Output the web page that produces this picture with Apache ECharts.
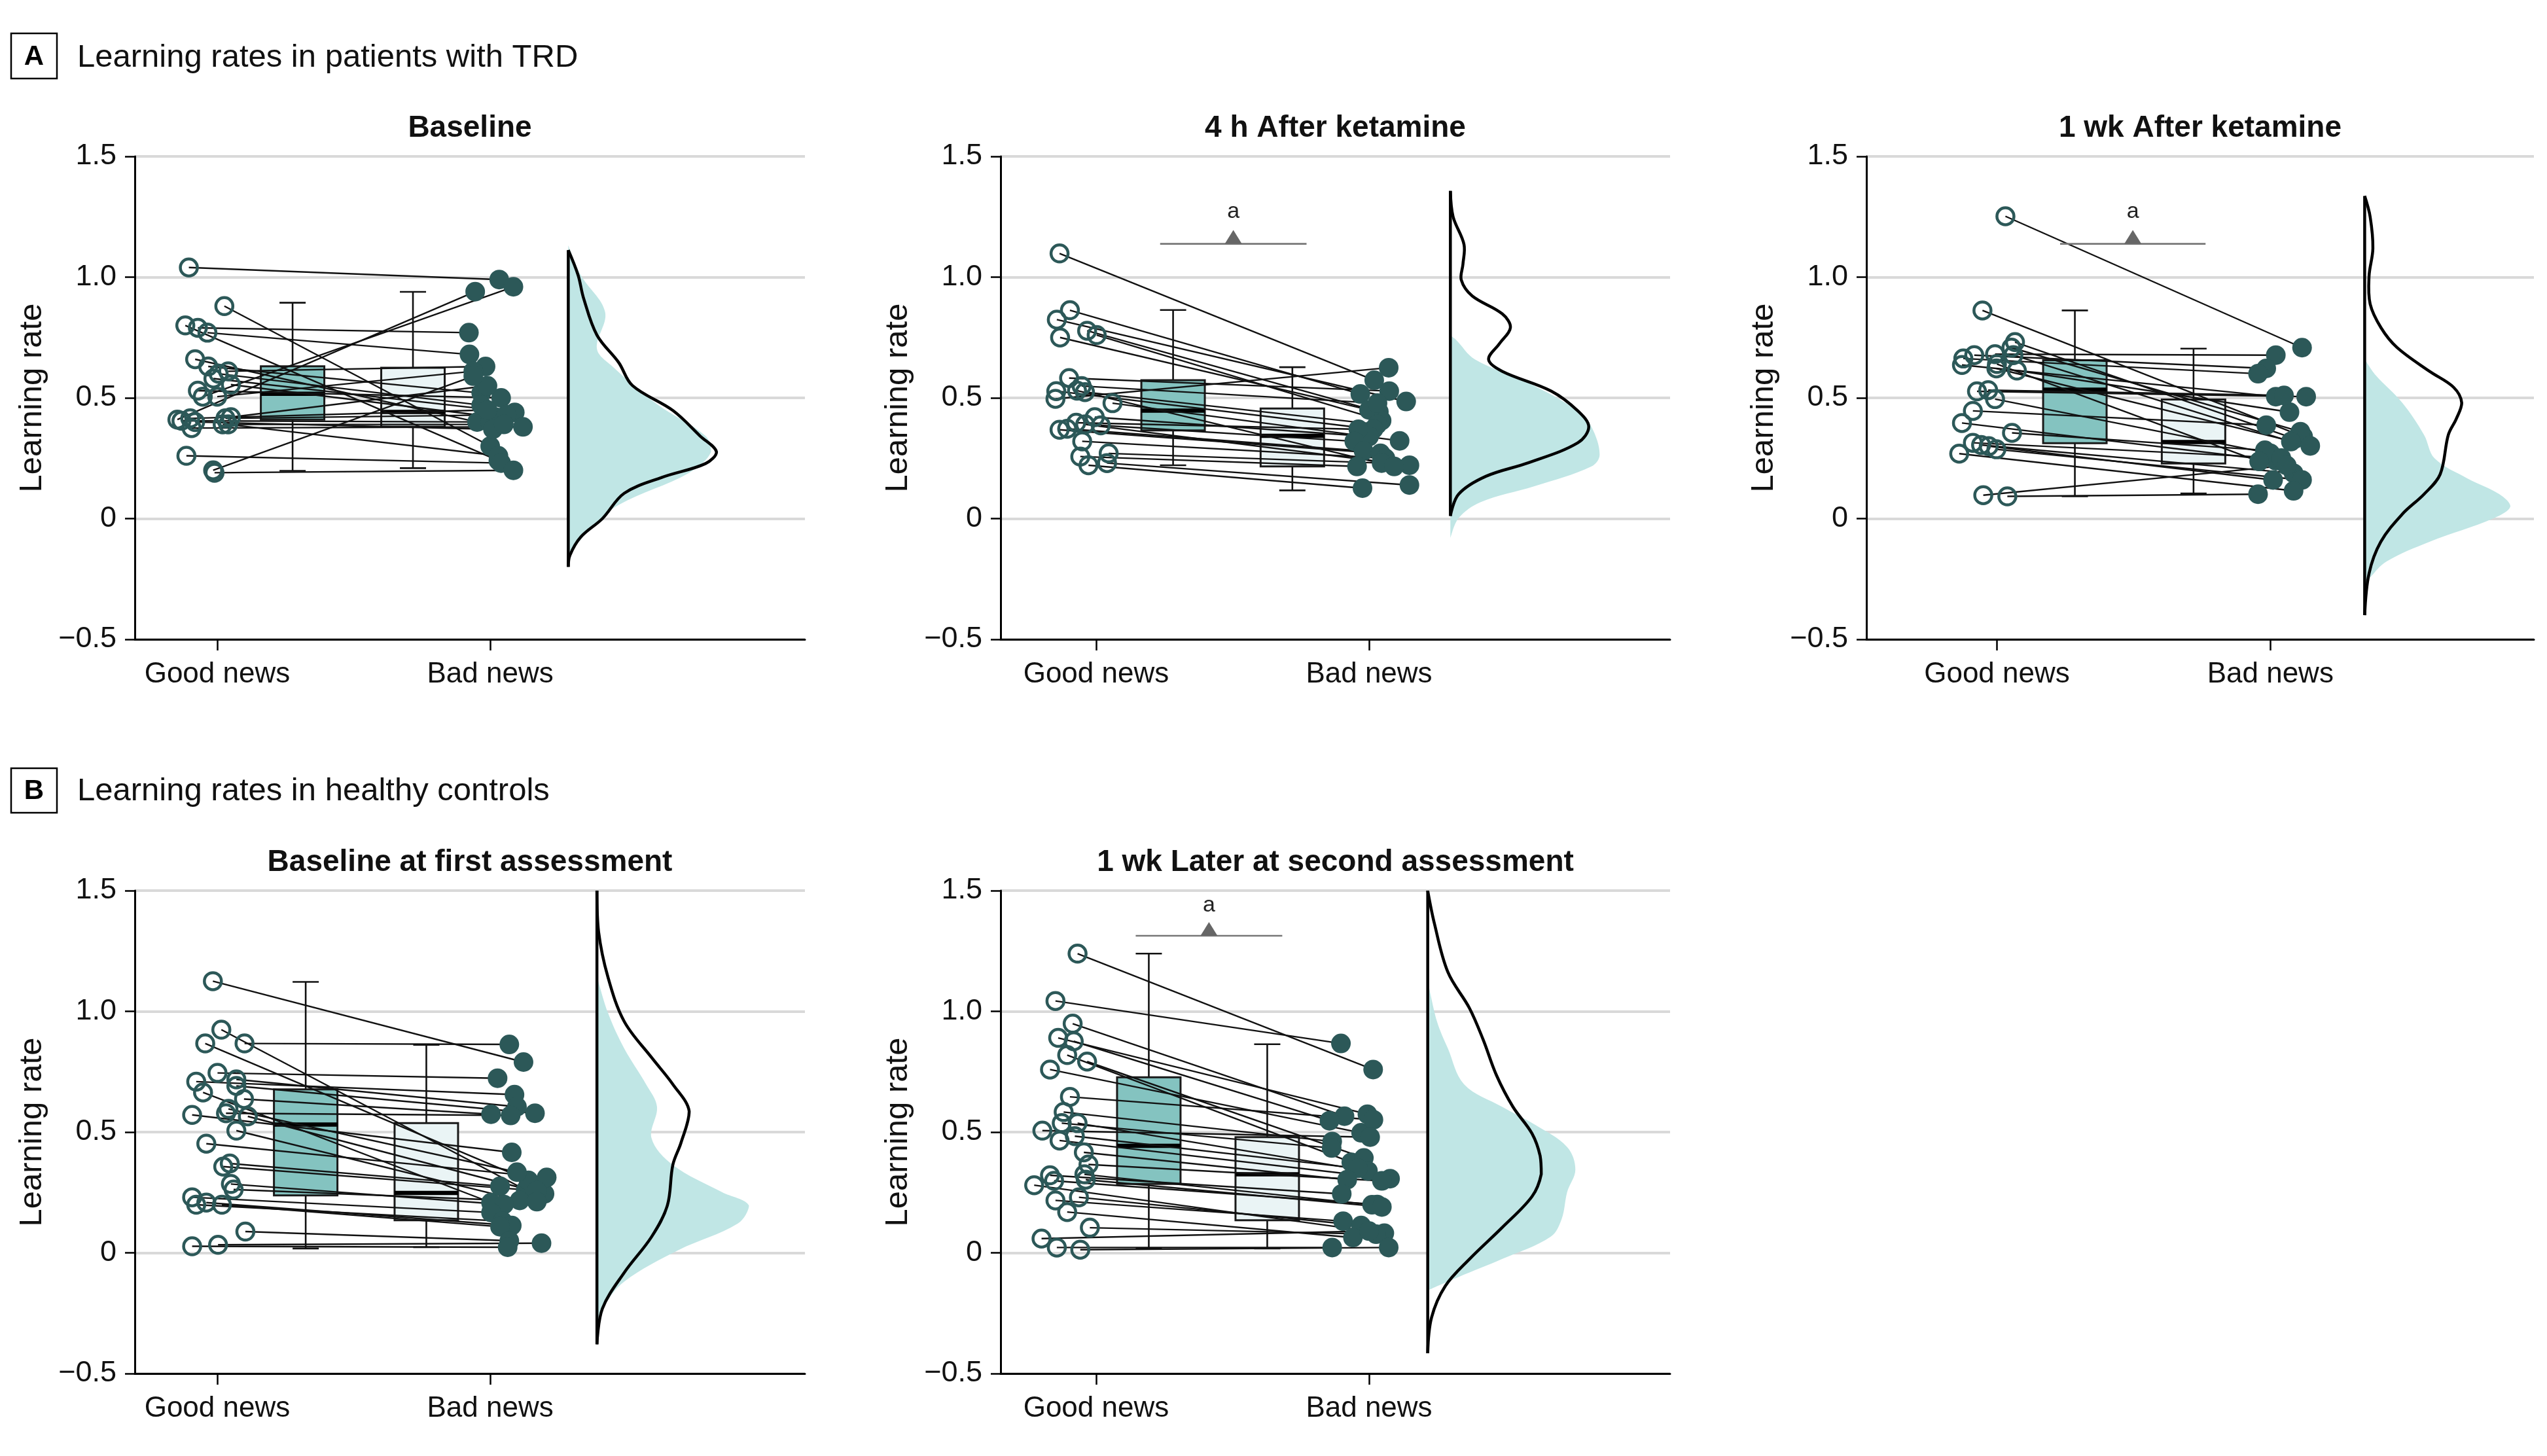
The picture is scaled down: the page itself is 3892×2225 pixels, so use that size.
<!DOCTYPE html>
<html><head><meta charset="utf-8">
<script src="https://cdn.jsdelivr.net/npm/echarts@6/dist/echarts.min.js"></script>
<style>html,body{margin:0;padding:0;background:#fff}#chart{width:3892px;height:2225px}</style>
</head><body><div id="chart"></div>
<script>
// ---------- labels ----------
const categories = ['Good news', 'Bad news'];
const yTickValues = [-0.5, 0, 0.5, 1.0, 1.5];
const yTickLabels = ['\u22120.5', '0', '0.5', '1.0', '1.5'];
const sectionA = 'Learning rates in patients with TRD';
const sectionB = 'Learning rates in healthy controls';
const panelTitles = ['Baseline', '4 h After ketamine', '1 wk After ketamine', 'Baseline at first assessment', '1 wk Later at second assessment'];

// ---------- A1 Baseline ----------
const a1GoodY = [1.04, 0.88, 0.80, 0.79, 0.77, 0.66, 0.63, 0.61, 0.60, 0.58, 0.555, 0.53, 0.505, 0.505, 0.41, 0.405, 0.415, 0.40, 0.375, 0.415, 0.42, 0.39, 0.39, 0.26, 0.19, 0.20];
const a1GoodX = [0.896, 1.026, 0.883, 0.929, 0.964, 0.919, 0.967, 1.04, 1.005, 0.986, 1.05, 0.929, 0.947, 1.0, 0.854, 0.869, 0.901, 0.919, 0.906, 1.03, 1.05, 1.02, 1.04, 0.887, 0.99, 0.985];
const a1BadY = [0.99, 0.30, 0.24, 0.77, 0.68, 0.40, 0.52, 0.63, 0.47, 0.44, 0.42, 0.50, 0.96, 0.61, 0.94, 0.40, 0.45, 0.37, 0.38, 0.43, 0.55, 0.39, 0.26, 0.23, 0.20, 0.59];
const a1BadX = [2.033, 2.0, 2.03, 1.922, 1.924, 1.952, 1.967, 1.983, 1.967, 2.09, 2.02, 2.04, 2.085, 1.938, 1.945, 2.0, 1.99, 2.01, 2.12, 2.06, 1.99, 2.05, 2.03, 2.04, 2.085, 1.938];
const a1GoodBox = [0.198, 0.41, 0.517, 0.631, 0.894];
const a1BadBox = [0.209, 0.381, 0.442, 0.625, 0.939];
const a1FillY = [1.131, 1.008, 0.855, 0.703, 0.627, 0.475, 0.342, 0.276, 0.19, 0.057, -0.038, -0.133, -0.19];
const a1FillW = [0, 0.046, 0.135, 0.105, 0.165, 0.324, 0.503, 0.523, 0.443, 0.185, 0.085, 0.016, 0];
const a1LineY = [1.112, 1.008, 0.913, 0.76, 0.646, 0.551, 0.447, 0.342, 0.276, 0.228, 0.171, 0.105, 0.0, -0.076, -0.152, -0.2];
const a1LineW = [0, 0.036, 0.056, 0.105, 0.185, 0.235, 0.384, 0.483, 0.543, 0.503, 0.344, 0.205, 0.125, 0.046, 0.006, 0];

// ---------- A2 4 h after ketamine ----------
const a2GoodY = [1.098, 0.863, 0.824, 0.778, 0.760, 0.75, 0.582, 0.549, 0.524, 0.528, 0.496, 0.478, 0.42, 0.397, 0.386, 0.372, 0.368, 0.32, 0.27, 0.257, 0.23, 0.221, 0.39, 0.53];
const a2GoodX = [0.866, 0.904, 0.856, 0.967, 1.002, 0.868, 0.901, 0.947, 0.959, 0.854, 0.851, 1.06, 0.995, 0.927, 1.017, 0.894, 0.866, 0.949, 1.046, 0.942, 1.04, 0.972, 0.96, 0.93];
const a2BadY = [0.573, 0.516, 0.485, 0.442, 0.406, 0.45, 0.528, 0.478, 0.39, 0.37, 0.625, 0.322, 0.34, 0.37, 0.32, 0.28, 0.27, 0.25, 0.23, 0.216, 0.139, 0.126, 0.221, 0.216];
const a2BadX = [2.019, 1.968, 2.136, 2.036, 2.046, 2.0, 2.074, 2.031, 2.03, 2.016, 2.072, 2.112, 2.0, 1.961, 1.946, 1.98, 2.042, 2.06, 2.046, 1.956, 2.148, 1.976, 2.148, 2.092];
const a2GoodBox = [0.221, 0.365, 0.447, 0.573, 0.864];
const a2BadBox = [0.117, 0.216, 0.343, 0.456, 0.627];
const a2FillY = [0.758, 0.741, 0.659, 0.561, 0.446, 0.38, 0.265, 0.216, 0.134, 0.068, 0.002, -0.08];
const a2FillW = [0, 0.02, 0.09, 0.288, 0.467, 0.517, 0.547, 0.517, 0.308, 0.11, 0.03, 0];
const a2LineY = [1.357, 1.25, 1.135, 1.053, 0.988, 0.922, 0.848, 0.791, 0.725, 0.659, 0.61, 0.528, 0.446, 0.38, 0.314, 0.232, 0.175, 0.101, 0.011];
const a2LineW = [0, 0.01, 0.05, 0.046, 0.04, 0.08, 0.19, 0.22, 0.18, 0.14, 0.19, 0.37, 0.467, 0.507, 0.467, 0.288, 0.13, 0.03, 0];

// ---------- A3 1 wk after ketamine ----------
const a3GoodY = [1.252, 0.862, 0.731, 0.708, 0.681, 0.677, 0.663, 0.636, 0.677, 0.622, 0.613, 0.527, 0.532, 0.495, 0.446, 0.396, 0.355, 0.314, 0.305, 0.287, 0.269, 0.097, 0.092, 0.30, 0.64];
const a3GoodX = [1.031, 0.947, 1.066, 1.053, 0.993, 0.917, 0.877, 0.872, 1.06, 0.998, 1.073, 0.927, 0.968, 0.993, 0.912, 0.872, 1.055, 0.912, 0.942, 0.998, 0.862, 0.95, 1.038, 0.97, 1.0];
const a3BadY = [0.708, 0.34, 0.33, 0.36, 0.677, 0.622, 0.6, 0.505, 0.319, 0.301, 0.441, 0.505, 0.51, 0.27, 0.387, 0.24, 0.283, 0.251, 0.188, 0.16, 0.115, 0.22, 0.101, 0.16, 0.237];
const a3BadX = [2.116, 2.12, 2.09, 2.11, 2.02, 1.985, 1.955, 2.02, 2.075, 2.146, 2.07, 2.131, 2.05, 2.0, 1.985, 2.02, 1.98, 2.04, 2.085, 2.116, 2.085, 2.06, 1.955, 2.01, 1.959];
const a3GoodBox = [0.092, 0.312, 0.534, 0.656, 0.862];
const a3BadBox = [0.104, 0.228, 0.317, 0.493, 0.704];
const a3FillY = [0.659, 0.594, 0.479, 0.347, 0.249, 0.167, 0.101, 0.051, 0.002, -0.096, -0.178, -0.244, -0.277];
const a3FillW = [0, 0.04, 0.138, 0.217, 0.256, 0.375, 0.493, 0.533, 0.473, 0.237, 0.079, 0.02, 0];
const a3LineY = [1.336, 1.25, 1.119, 1.004, 0.889, 0.79, 0.709, 0.61, 0.544, 0.479, 0.413, 0.347, 0.183, 0.101, 0.019, -0.096, -0.227, -0.4];
const a3LineW = [0, 0.02, 0.03, 0.016, 0.02, 0.06, 0.118, 0.237, 0.325, 0.355, 0.335, 0.306, 0.276, 0.217, 0.138, 0.059, 0.016, 0];

// ---------- B1 Baseline at first assessment ----------
const b1GoodY = [1.125, 0.924, 0.867, 0.867, 0.745, 0.709, 0.718, 0.691, 0.664, 0.637, 0.565, 0.571, 0.578, 0.596, 0.506, 0.452, 0.357, 0.37, 0.285, 0.262, 0.23, 0.199, 0.208, 0.199, 0.088, 0.027, 0.033];
const b1GoodX = [0.984, 1.015, 0.956, 1.1, 1.001, 0.923, 1.07, 1.07, 0.948, 1.098, 1.112, 0.908, 1.032, 1.041, 1.07, 0.96, 1.022, 1.046, 1.05, 1.06, 0.908, 0.923, 0.96, 1.017, 1.103, 0.908, 1.003];
const b1BadY = [0.79, 0.26, 0.3, 0.863, 0.723, 0.655, 0.605, 0.578, 0.208, 0.574, 0.244, 0.416, 0.569, 0.334, 0.217, 0.312, 0.257, 0.276, 0.2, 0.212, 0.167, 0.131, 0.113, 0.108, 0.05, 0.023, 0.04];
const b1BadX = [2.122, 2.13, 2.14, 2.07, 2.027, 2.089, 2.098, 2.164, 2.003, 2.003, 2.199, 2.079, 2.075, 2.098, 2.108, 2.207, 2.171, 2.036, 2.05, 2.171, 2.003, 2.045, 2.079, 2.036, 2.07, 2.064, 2.188];
const b1GoodBox = [0.018, 0.238, 0.531, 0.677, 1.122];
const b1BadBox = [0.023, 0.135, 0.248, 0.537, 0.861];
const b1FillY = [1.143, 0.995, 0.846, 0.698, 0.605, 0.475, 0.364, 0.252, 0.196, 0.122, 0.011, -0.119, -0.231, -0.305];
const b1FillW = [0, 0.04, 0.1, 0.18, 0.22, 0.2, 0.278, 0.457, 0.557, 0.517, 0.298, 0.1, 0.02, 0];
const b1LineY = [1.5, 1.33, 1.143, 0.958, 0.809, 0.698, 0.586, 0.456, 0.364, 0.196, 0.066, -0.082, -0.231, -0.379];
const b1LineW = [0, 0.006, 0.04, 0.1, 0.2, 0.278, 0.338, 0.308, 0.278, 0.258, 0.2, 0.1, 0.02, 0];

// ---------- B2 1 wk later at second assessment ----------
const b2GoodY = [1.239, 1.043, 0.949, 0.89, 0.876, 0.819, 0.792, 0.759, 0.646, 0.583, 0.537, 0.537, 0.506, 0.483, 0.465, 0.416, 0.366, 0.321, 0.298, 0.28, 0.325, 0.303, 0.217, 0.23, 0.169, 0.104, 0.059, 0.022, 0.013];
const b2GoodX = [0.932, 0.851, 0.914, 0.861, 0.918, 0.894, 0.967, 0.831, 0.904, 0.881, 0.874, 0.932, 0.803, 0.922, 0.866, 0.955, 0.972, 0.831, 0.846, 0.773, 0.957, 0.962, 0.851, 0.937, 0.894, 0.977, 0.8, 0.856, 0.942];
const b2BadY = [0.759, 0.867, 0.566, 0.574, 0.547, 0.375, 0.393, 0.497, 0.551, 0.461, 0.434, 0.339, 0.479, 0.35, 0.307, 0.303, 0.298, 0.244, 0.2, 0.081, 0.199, 0.19, 0.131, 0.113, 0.063, 0.077, 0.09, 0.022, 0.022];
const b2BadX = [2.015, 1.897, 1.91, 1.994, 1.855, 1.935, 1.981, 1.971, 2.016, 1.865, 1.863, 1.996, 2.004, 1.96, 2.077, 1.92, 2.047, 1.9, 2.03, 2.056, 2.011, 2.047, 1.905, 1.971, 1.941, 2.026, 2.0, 1.865, 2.072];
const b2GoodBox = [0.018, 0.285, 0.443, 0.727, 1.239];
const b2BadBox = [0.018, 0.135, 0.325, 0.479, 0.864];
const b2FillY = [1.125, 0.958, 0.846, 0.698, 0.605, 0.531, 0.438, 0.345, 0.252, 0.141, 0.067, -0.026, -0.1, -0.138, -0.156];
const b2FillW = [0, 0.034, 0.074, 0.133, 0.272, 0.392, 0.511, 0.541, 0.511, 0.491, 0.451, 0.272, 0.113, 0.034, 0];
const b2LineY = [1.5, 1.366, 1.162, 1.013, 0.883, 0.735, 0.605, 0.494, 0.401, 0.326, 0.233, 0.104, -0.026, -0.138, -0.268, -0.416];
const b2LineW = [0, 0.024, 0.074, 0.153, 0.203, 0.252, 0.312, 0.382, 0.412, 0.416, 0.382, 0.272, 0.153, 0.064, 0.014, 0];

// ---------- layout (positions / styles) ----------
const FONT = "'Liberation Sans', Arial, Helvetica, sans-serif";
const C = {
  point: '#2c5858', goodBox: '#84c3c0', badBox: '#eaf4f5', dens: '#c0e6e5',
  grid: '#d9d9d9', sig: '#777777', sigTri: '#666666'
};
const layouts = [
  {left: 206, top: 239, width: 1024, xMin: 0.698, xMax: 3.153, goodBoxX: 1.276, badBoxX: 1.717, base: 2.286, sig: null},
  {left: 1529, top: 239, width: 1023, xMin: 0.650, xMax: 3.103, goodBoxX: 1.282, badBoxX: 1.719, base: 2.298, sig: [1.2345, 1.771, 1.138, 1.272]},
  {left: 2852, top: 239, width: 1020, xMin: 0.5225, xMax: 2.964, goodBoxX: 1.285, badBoxX: 1.719, base: 2.345, sig: [1.231, 1.763, 1.138, 1.272]},
  {left: 206, top: 1361, width: 1024, xMin: 0.698, xMax: 3.153, goodBoxX: 1.324, badBoxX: 1.766, base: 2.391, sig: null},
  {left: 1529, top: 1361, width: 1023, xMin: 0.650, xMax: 3.103, goodBoxX: 1.193, badBoxX: 1.627, base: 2.215, sig: [1.145, 1.682, 1.313, 1.44]}
];
const GRID_H = 738;

const panels = [
  {gy: a1GoodY, gx: a1GoodX, by: a1BadY, bx: a1BadX, gb: a1GoodBox, bb: a1BadBox, fy: a1FillY, fw: a1FillW, ly: a1LineY, lw: a1LineW},
  {gy: a2GoodY, gx: a2GoodX, by: a2BadY, bx: a2BadX, gb: a2GoodBox, bb: a2BadBox, fy: a2FillY, fw: a2FillW, ly: a2LineY, lw: a2LineW},
  {gy: a3GoodY, gx: a3GoodX, by: a3BadY, bx: a3BadX, gb: a3GoodBox, bb: a3BadBox, fy: a3FillY, fw: a3FillW, ly: a3LineY, lw: a3LineW},
  {gy: b1GoodY, gx: b1GoodX, by: b1BadY, bx: b1BadX, gb: b1GoodBox, bb: b1BadBox, fy: b1FillY, fw: b1FillW, ly: b1LineY, lw: b1LineW},
  {gy: b2GoodY, gx: b2GoodX, by: b2BadY, bx: b2BadX, gb: b2GoodBox, bb: b2BadBox, fy: b2FillY, fw: b2FillW, ly: b2LineY, lw: b2LineW}
];

// ---------- renderers ----------
function allCoords(params, api) {
  const pts = [];
  for (let k = 0; k < params.dataInsideLength; k++) {
    pts.push(api.coord([api.value(0, k), api.value(1, k)]));
  }
  return pts;
}
function renderDensFill(params, api) {
  if (params.dataIndexInside !== 0) return null;
  const pts = allCoords(params, api);
  return {type: 'polygon', shape: {points: pts, smooth: 0.35, smoothConstraint: [pts[0], pts[0]]},
    style: {fill: C.dens, stroke: null}};
}
function renderDensLine(params, api) {
  if (params.dataIndexInside !== 0) return null;
  const pts = allCoords(params, api);
  const a = pts[0], b = pts[pts.length - 1];
  return {type: 'group', children: [
    {type: 'polyline', shape: {points: pts, smooth: 0.35, smoothConstraint: [pts[0], pts[0]]},
      style: {stroke: '#000', lineWidth: 4.5, fill: null, lineJoin: 'round'}},
    {type: 'line', shape: {x1: a[0], y1: a[1], x2: b[0], y2: b[1]}, style: {stroke: '#000', lineWidth: 4.5}}
  ]};
}
function renderConnector(params, api) {
  const a = api.coord([api.value(0), api.value(1)]);
  const b = api.coord([api.value(2), api.value(3)]);
  return {type: 'line', shape: {x1: a[0], y1: a[1], x2: b[0], y2: b[1]}, style: {stroke: '#111', lineWidth: 2.4}};
}
const BOX_HALF = 48.5, CAP_HALF = 20;
function renderBox(params, api) {
  const x = api.value(0);
  const pMin = api.coord([x, api.value(1)]), pQ1 = api.coord([x, api.value(2)]),
        pMed = api.coord([x, api.value(3)]), pQ3 = api.coord([x, api.value(4)]),
        pMax = api.coord([x, api.value(5)]);
  const cx = pMin[0];
  const fill = params.dataIndex === 0 ? C.goodBox : C.badBox;
  const ls = {stroke: '#111', lineWidth: 2.6};
  return {type: 'group', children: [
    {type: 'line', shape: {x1: cx, y1: pMax[1], x2: cx, y2: pMin[1]}, style: ls},
    {type: 'line', shape: {x1: cx - CAP_HALF, y1: pMax[1], x2: cx + CAP_HALF, y2: pMax[1]}, style: ls},
    {type: 'line', shape: {x1: cx - CAP_HALF, y1: pMin[1], x2: cx + CAP_HALF, y2: pMin[1]}, style: ls},
    {type: 'rect', shape: {x: cx - BOX_HALF, y: pQ3[1], width: BOX_HALF * 2, height: pQ1[1] - pQ3[1]},
      style: {fill: fill, stroke: '#1a1a1a', lineWidth: 3}},
    {type: 'line', shape: {x1: cx - BOX_HALF, y1: pMed[1], x2: cx + BOX_HALF, y2: pMed[1]}, style: {stroke: '#000', lineWidth: 6.5}}
  ]};
}
function renderSig(params, api) {
  const a = api.coord([api.value(0), api.value(2)]);
  const b = api.coord([api.value(1), api.value(2)]);
  const t = api.coord([api.value(0), api.value(3)]);
  const cx = (a[0] + b[0]) / 2;
  return {type: 'group', children: [
    {type: 'line', shape: {x1: a[0], y1: a[1], x2: b[0], y2: b[1]}, style: {stroke: C.sig, lineWidth: 2.6}},
    {type: 'polygon', shape: {points: [[cx - 13, a[1]], [cx + 13, a[1]], [cx, a[1] - 21]]}, style: {fill: C.sigTri}},
    {type: 'text', x: cx, y: t[1], style: {text: 'a', font: '34px ' + FONT, fill: '#222',
      align: 'center', verticalAlign: 'middle', textAlign: 'center', textVerticalAlign: 'middle'}}
  ]};
}

// ---------- build option ----------
const grid = [], xAxis = [], yAxis = [], series = [], title = [];
panels.forEach((p, i) => {
  const L = layouts[i];
  grid.push({left: L.left, top: L.top, width: L.width, height: GRID_H});
  xAxis.push({
    type: 'value', gridIndex: i, min: L.xMin, max: L.xMax,
    axisLine: {onZero: false, lineStyle: {color: '#000', width: 3}},
    axisTick: {show: true, customValues: [1, 2], length: 17, lineStyle: {color: '#000', width: 2.5}},
    axisLabel: {customValues: [1, 2], formatter: v => categories[Math.round(v) - 1],
      fontSize: 44, fontFamily: FONT, color: '#111', margin: 32},
    splitLine: {show: false}
  });
  yAxis.push({
    type: 'value', gridIndex: i, min: yTickValues[0], max: yTickValues[yTickValues.length - 1], interval: 0.5,
    axisLine: {show: true, onZero: false, lineStyle: {color: '#000', width: 3}},
    axisTick: {show: true, length: 15, lineStyle: {color: '#000', width: 2.5}},
    axisLabel: {formatter: v => yTickLabels[Math.round((v - yTickValues[0]) / 0.5)],
      fontSize: 45, fontFamily: FONT, color: '#111', margin: 28},
    splitLine: {show: true, lineStyle: {color: C.grid, width: 4}},
    name: 'Learning rate', nameLocation: 'middle', nameGap: 132,
    nameTextStyle: {fontSize: 49, fontFamily: FONT, color: '#111'}
  });
  title.push({
    text: panelTitles[i], left: L.left + L.width / 2, top: L.top - 43, padding: 0,
    textAlign: 'center', textVerticalAlign: 'middle',
    textStyle: {fontSize: 46, fontWeight: 'bold', fontFamily: FONT, color: '#111'}
  });
  const ax = {xAxisIndex: i, yAxisIndex: i};
  series.push(Object.assign({type: 'custom', z: 1, silent: true, clip: true, renderItem: renderDensFill,
    encode: {x: 0, y: 1}, data: p.fy.map((y, k) => [L.base + p.fw[k], y])}, ax));
  series.push(Object.assign({type: 'custom', z: 1, silent: true, clip: true, renderItem: renderDensLine,
    encode: {x: 0, y: 1}, data: p.ly.map((y, k) => [L.base + p.lw[k], y])}, ax));
  series.push(Object.assign({type: 'custom', z: 2, silent: true, renderItem: renderBox,
    encode: {x: 0, y: [1, 2, 3, 4, 5]},
    data: [[L.goodBoxX].concat(p.gb), [L.badBoxX].concat(p.bb)]}, ax));
  series.push(Object.assign({type: 'custom', z: 3, silent: true, renderItem: renderConnector,
    encode: {x: [0, 2], y: [1, 3]},
    data: p.gy.map((y, k) => [p.gx[k], y, p.bx[k], p.by[k]])}, ax));
  series.push(Object.assign({type: 'scatter', name: categories[0], z: 4, symbol: 'circle', symbolSize: 26,
    itemStyle: {color: 'rgba(0,0,0,0)', borderColor: C.point, borderWidth: 4.5, opacity: 1},
    data: p.gy.map((y, k) => [p.gx[k], y])}, ax));
  series.push(Object.assign({type: 'scatter', name: categories[1], z: 5, symbol: 'circle', symbolSize: 30,
    itemStyle: {color: C.point, opacity: 1},
    data: p.by.map((y, k) => [p.bx[k], y])}, ax));
  if (L.sig) {
    series.push(Object.assign({type: 'custom', z: 6, silent: true, renderItem: renderSig,
      encode: {x: [0, 1], y: [2, 3]}, data: [L.sig]}, ax));
  }
});

const graphic = [
  {type: 'rect', shape: {x: 17, y: 51, width: 70, height: 69}, style: {fill: '#fff', stroke: '#000', lineWidth: 2.5}},
  {type: 'text', x: 52, y: 87, style: {text: 'A', font: 'bold 42px ' + FONT, fill: '#000', align: 'center', verticalAlign: 'middle', textAlign: 'center', textVerticalAlign: 'middle'}},
  {type: 'text', x: 118, y: 88, style: {text: sectionA, font: '49px ' + FONT, fill: '#111', align: 'left', verticalAlign: 'middle', textAlign: 'left', textVerticalAlign: 'middle'}},
  {type: 'rect', shape: {x: 17, y: 1174, width: 70, height: 68}, style: {fill: '#fff', stroke: '#000', lineWidth: 2.5}},
  {type: 'text', x: 52, y: 1209, style: {text: 'B', font: 'bold 42px ' + FONT, fill: '#000', align: 'center', verticalAlign: 'middle', textAlign: 'center', textVerticalAlign: 'middle'}},
  {type: 'text', x: 118, y: 1209, style: {text: sectionB, font: '49px ' + FONT, fill: '#111', align: 'left', verticalAlign: 'middle', textAlign: 'left', textVerticalAlign: 'middle'}}
];

const chart = echarts.init(document.getElementById('chart'), null, {renderer: 'canvas'});
chart.setOption({
  animation: false,
  backgroundColor: '#fff',
  textStyle: {fontFamily: FONT},
  title: title, grid: grid, xAxis: xAxis, yAxis: yAxis, series: series, graphic: graphic
});
</script></body></html>
